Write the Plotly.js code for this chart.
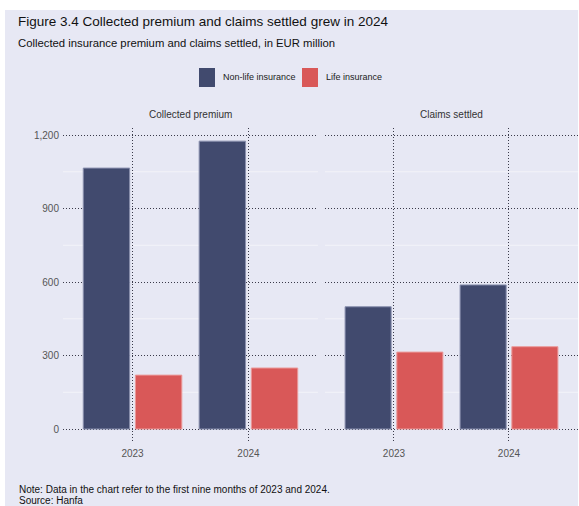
<!DOCTYPE html>
<html>
<head>
<meta charset="utf-8">
<script src="https://cdn.plot.ly/plotly-3.0.1.min.js"></script>
<style>
  html, body { margin: 0; padding: 0; background: #ffffff; }
  #bg { position: absolute; left: 5px; top: 10px; width: 573px; height: 496px; background: #e7e8f4; }
  #chart { position: absolute; left: 0; top: 0; width: 579px; height: 506px; }
</style>
</head>
<body>
<div id="bg"></div>
<div id="chart"></div>
<script>
const years = ['2023', '2024'];
const premiumNonLife = [1065, 1175];
const premiumLife = [220, 249];
const claimsNonLife = [499, 588];
const claimsLife = [314, 336];
const seriesNames = ['Non-life insurance', 'Life insurance'];
const panelTitles = ['Collected premium', 'Claims settled'];
const yTicks = [0, 300, 600, 900, 1200];
const yMinor = [150, 450, 750, 1050];

const cNon = '#414a6e';
const cLife = '#d95858';
const font = 'Liberation Sans, Arial, sans-serif';

const traces = [
  {type: 'bar', x: years, y: premiumNonLife, name: seriesNames[0], xaxis: 'x', yaxis: 'y',
   marker: {color: cNon, line: {color: '#8a90ae', width: 1}}, showlegend: false, hoverinfo: 'y'},
  {type: 'bar', x: years, y: premiumLife, name: seriesNames[1], xaxis: 'x', yaxis: 'y',
   marker: {color: cLife, line: {color: '#eb9a9a', width: 1}}, showlegend: false, hoverinfo: 'y'},
  {type: 'bar', x: years, y: claimsNonLife, name: seriesNames[0], xaxis: 'x2', yaxis: 'y2',
   marker: {color: cNon, line: {color: '#8a90ae', width: 1}}, showlegend: false, hoverinfo: 'y'},
  {type: 'bar', x: years, y: claimsLife, name: seriesNames[1], xaxis: 'x2', yaxis: 'y2',
   marker: {color: cLife, line: {color: '#eb9a9a', width: 1}}, showlegend: false, hoverinfo: 'y'}
];

const gridCol = '#3a3a4a';
const xCommon = {
  type: 'category', categoryorder: 'array', categoryarray: years,
  range: [-0.6, 1.6], showgrid: true, gridcolor: gridCol, gridwidth: 1, griddash: '1px,2px',
  showline: false, zeroline: false, ticks: '', layer: 'above traces', ticklabelstandoff: 3,
  tickfont: {family: font, size: 10, color: '#555555'}, fixedrange: true
};
const yCommon = {
  range: [-57.1, 1228.6], tickvals: yTicks, showgrid: true, gridcolor: gridCol, gridwidth: 1,
  griddash: '1px,2px', zeroline: false, showline: false, ticks: '', layer: 'above traces',
  ticklabelstandoff: 3,
  tickformat: ',d', tickfont: {family: font, size: 10, color: '#555555'}, fixedrange: true
};

const shapes = [];
yMinor.forEach(v => {
  shapes.push({type: 'line', xref: 'x domain', yref: 'y', x0: 0, x1: 1, y0: v, y1: v,
    line: {color: '#f3f3f9', width: 1}, layer: 'below'});
  shapes.push({type: 'line', xref: 'x2 domain', yref: 'y2', x0: 0, x1: 1, y0: v, y1: v,
    line: {color: '#f3f3f9', width: 1}, layer: 'below'});
});
// custom legend swatches
shapes.push({type: 'rect', xref: 'paper', yref: 'paper', x0: 0.2641, x1: 0.2951, y0: 1.1302, y1: 1.1905,
  fillcolor: cNon, line: {width: 0}});
shapes.push({type: 'rect', xref: 'paper', yref: 'paper', x0: 0.4641, x1: 0.4951, y0: 1.1302, y1: 1.1905,
  fillcolor: cLife, line: {width: 0}});

const annotations = [
  {text: 'Figure 3.4 Collected premium and claims settled grew in 2024', xref: 'paper', yref: 'paper',
   x: -0.0913, y: 1.337, xanchor: 'left', yanchor: 'middle', showarrow: false,
   font: {family: font, size: 13.5, color: '#111111'}},
  {text: 'Collected insurance premium and claims settled, in EUR million', xref: 'paper', yref: 'paper',
   x: -0.0913, y: 1.271, xanchor: 'left', yanchor: 'middle', showarrow: false,
   font: {family: font, size: 11.3, color: '#111111'}},
  {text: seriesNames[0], xref: 'paper', yref: 'paper', x: 0.3068, y: 1.1619,
   xanchor: 'left', yanchor: 'middle', showarrow: false, font: {family: font, size: 9, color: '#222222'}},
  {text: seriesNames[1], xref: 'paper', yref: 'paper', x: 0.5068, y: 1.1619,
   xanchor: 'left', yanchor: 'middle', showarrow: false, font: {family: font, size: 9, color: '#222222'}},
  {text: panelTitles[0], xref: 'paper', yref: 'paper', x: 0.2476, y: 1.0413,
   xanchor: 'center', yanchor: 'middle', showarrow: false, font: {family: font, size: 10, color: '#333333'}},
  {text: panelTitles[1], xref: 'paper', yref: 'paper', x: 0.7544, y: 1.0413,
   xanchor: 'center', yanchor: 'middle', showarrow: false, font: {family: font, size: 10, color: '#333333'}},
  {text: 'Note: Data in the chart refer to the first nine months of 2023 and 2024.', xref: 'paper', yref: 'paper',
   x: -0.0893, y: -0.149, xanchor: 'left', yanchor: 'middle', showarrow: false,
   font: {family: font, size: 10, color: '#111111'}},
  {text: 'Source: Hanfa', xref: 'paper', yref: 'paper',
   x: -0.0893, y: -0.184, xanchor: 'left', yanchor: 'middle', showarrow: false,
   font: {family: font, size: 10, color: '#111111'}}
];

const layout = {
  width: 579, height: 506,
  margin: {l: 63, r: 1, t: 128, b: 63, pad: 0},
  paper_bgcolor: 'rgba(0,0,0,0)', plot_bgcolor: 'rgba(0,0,0,0)',
  barmode: 'group', bargap: 0.1, bargroupgap: 0.11,
  showlegend: false,
  font: {family: font},
  xaxis: Object.assign({}, xCommon, {domain: [0, 0.4951], anchor: 'y'}),
  xaxis2: Object.assign({}, xCommon, {domain: [0.5087, 1], anchor: 'y2'}),
  yaxis: Object.assign({}, yCommon, {anchor: 'x'}),
  yaxis2: Object.assign({}, yCommon, {anchor: 'x2', showticklabels: false}),
  shapes: shapes,
  annotations: annotations
};

Plotly.newPlot('chart', traces, layout, {displayModeBar: false, staticPlot: true});
</script>
</body>
</html>
